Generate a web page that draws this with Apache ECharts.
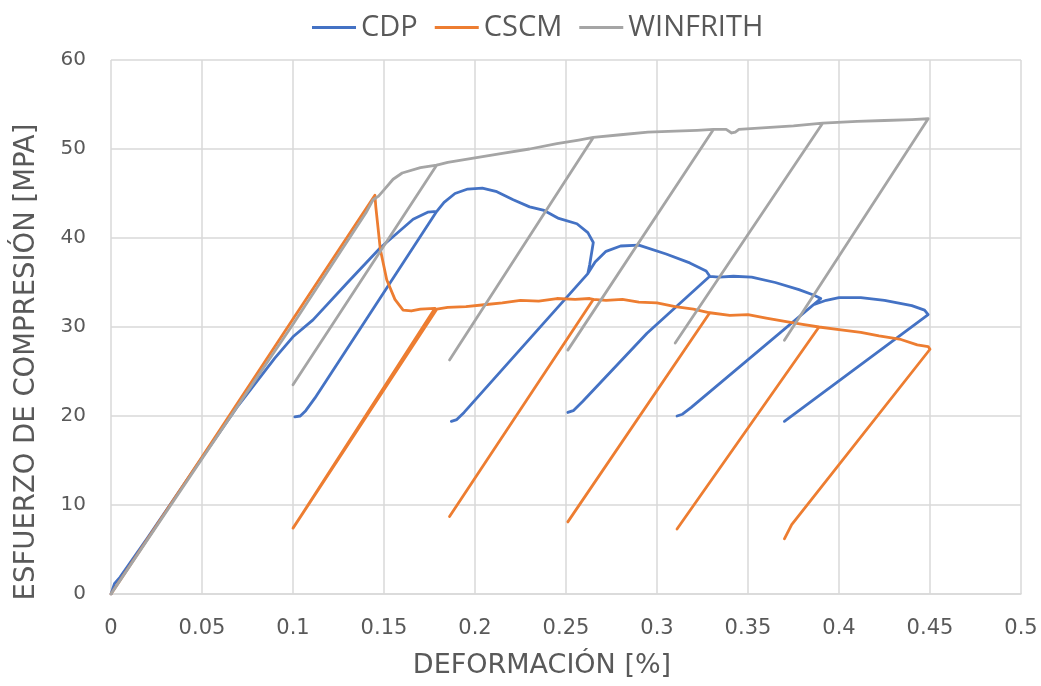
<!DOCTYPE html>
<html>
<head>
<meta charset="utf-8">
<script src="https://cdn.jsdelivr.net/npm/echarts@6/dist/echarts.min.js"></script>
<style>
  html, body { margin: 0; padding: 0; background: #ffffff; }
  #chart { width: 1041px; height: 686px; }
</style>
</head>
<body>
<div id="chart"></div>
<script>
// Cyclic compression tests: strain [%] vs. stress [MPa] for three concrete models.
const seriesNames = ['CDP', 'CSCM', 'WINFRITH'];
const seriesColors = ['#4472C4', '#ED7D31', '#A5A5A5'];

const xTicks = [0, 0.05, 0.1, 0.15, 0.2, 0.25, 0.3, 0.35, 0.4, 0.45, 0.5];
const yTicks = [0, 10, 20, 30, 40, 50, 60];

// CDP: envelope with five unload / reload loops (each reload retraces its unload path)
const cdpStrain = [
  0, 0.002, 0.005, 0.02, 0.05, 0.07, 0.09, 0.1, 0.111, 0.13, 0.148, 0.166, 0.174, 0.179,
  0.112, 0.107, 0.104, 0.101,
  0.104, 0.107, 0.112, 0.179, 0.183, 0.189, 0.196, 0.204, 0.212, 0.221, 0.23, 0.238, 0.246, 0.256, 0.262, 0.265, 0.263, 0.262,
  0.194, 0.19, 0.187,
  0.19, 0.194, 0.262, 0.266, 0.272, 0.28, 0.29, 0.305, 0.318, 0.327, 0.329,
  0.2945, 0.259, 0.254, 0.251,
  0.254, 0.259, 0.2945, 0.329, 0.334, 0.342, 0.352, 0.365, 0.378, 0.386, 0.39,
  0.319, 0.314, 0.311,
  0.314, 0.319, 0.386, 0.393, 0.4, 0.412, 0.425, 0.44, 0.447, 0.449,
  0.37
];
const cdpStress = [
  0, 1.2, 1.9, 6.3, 15.3, 21.2, 26.5, 28.9, 30.8, 35.0, 38.9, 42.1, 42.9, 43.0,
  22.0, 20.6, 20.0, 19.9,
  20.0, 20.6, 22.0, 43.0, 44.0, 45.0, 45.5, 45.6, 45.2, 44.3, 43.5, 43.1, 42.2, 41.6, 40.6, 39.5, 37.0, 36.0,
  20.4, 19.6, 19.4,
  19.6, 20.4, 36.0, 37.3, 38.5, 39.1, 39.2, 38.2, 37.2, 36.3, 35.7,
  29.3, 21.6, 20.6, 20.4,
  20.6, 21.6, 29.3, 35.7, 35.6, 35.7, 35.6, 35.0, 34.2, 33.6, 33.2,
  21.0, 20.2, 20.0,
  20.2, 21.0, 32.5, 33.0, 33.3, 33.3, 33.0, 32.4, 31.9, 31.4,
  19.4
];

// CSCM: brittle peak, then a softening plateau with unload / reload loops
const cscmStrain = [
  0, 0.05, 0.1, 0.144, 0.145, 0.1455, 0.148, 0.1515, 0.156, 0.1605, 0.165, 0.17, 0.178, 0.179,
  0.1,
  0.179, 0.185, 0.195, 0.205, 0.215, 0.225, 0.235, 0.245, 0.255, 0.263, 0.265,
  0.186,
  0.265, 0.272, 0.281, 0.29, 0.3, 0.31, 0.32, 0.329,
  0.251,
  0.329, 0.34, 0.35, 0.36, 0.371, 0.38, 0.389,
  0.311,
  0.389, 0.4, 0.412, 0.422, 0.434, 0.443, 0.449, 0.45,
  0.374, 0.37
];
const cscmStress = [
  0, 15.4, 30.9, 44.5, 44.8, 43.5, 38.7, 35.3, 33.1, 31.9, 31.8, 32.0, 32.1, 32.0,
  7.4,
  32.0, 32.2, 32.3, 32.5, 32.7, 33.0, 32.9, 33.2, 33.1, 33.2, 33.1,
  8.7,
  33.1, 33.0, 33.1, 32.8, 32.7, 32.3, 32.0, 31.6,
  8.1,
  31.6, 31.3, 31.4, 31.0, 30.6, 30.3, 30.0,
  7.3,
  30.0, 29.7, 29.4, 29.0, 28.6, 28.0, 27.8, 27.5,
  7.8, 6.2
];

// WINFRITH: hardening envelope with unload / reload loops
const winStrain = [
  0, 0.05, 0.1, 0.14, 0.144, 0.147, 0.15, 0.155, 0.16, 0.17, 0.179,
  0.1,
  0.179, 0.185, 0.2, 0.215, 0.23, 0.245, 0.257, 0.265,
  0.186,
  0.265, 0.28, 0.295, 0.31, 0.322, 0.331,
  0.251,
  0.331, 0.338, 0.341, 0.343, 0.345, 0.36, 0.375, 0.391,
  0.31,
  0.391, 0.41, 0.425, 0.44, 0.449,
  0.37
];
const winStress = [
  0, 15.2, 30.3, 42.8, 44.3, 44.7, 45.4, 46.6, 47.3, 47.9, 48.2,
  23.5,
  48.2, 48.5, 49.0, 49.5, 50.0, 50.6, 51.0, 51.3,
  26.3,
  51.3, 51.6, 51.9, 52.0, 52.1, 52.2,
  27.4,
  52.2, 52.2, 51.8, 51.9, 52.2, 52.4, 52.6, 52.9,
  28.2,
  52.9, 53.1, 53.2, 53.3, 53.4,
  28.5
];

const pairs = (xs, ys) => xs.map((x, i) => [x, ys[i]]);
const curves = [
  pairs(cdpStrain, cdpStress),
  pairs(cscmStrain, cscmStress),
  pairs(winStrain, winStress)
];

const textColor = '#595959';
const gridColor = '#D9D9D9';

const chart = echarts.init(document.getElementById('chart'), null, { renderer: 'canvas' });
chart.setOption({
  animation: false,
  backgroundColor: '#ffffff',
  color: seriesColors,
  legend: {
    top: 8,
    left: 307,
    icon: 'rect',
    itemWidth: 44,
    itemHeight: 3,
    itemGap: 17,
    textStyle: { fontFamily: 'Open Sans', fontSize: 29, color: textColor },
    data: seriesNames
  },
  grid: { left: 111, right: 20, top: 60, bottom: 92, containLabel: false },
  xAxis: {
    type: 'value',
    min: xTicks[0],
    max: xTicks[xTicks.length - 1],
    interval: 0.05,
    name: 'DEFORMACIÓN [%]',
    nameLocation: 'middle',
    nameGap: 58,
    nameTextStyle: { fontFamily: 'DejaVu Sans', fontSize: 27, color: textColor, padding: [0, 48, 0, 0] },
    axisLine: { show: true, lineStyle: { color: gridColor, width: 1.5 } },
    axisTick: { show: false },
    axisLabel: {
      fontFamily: 'DejaVu Sans', fontSize: 21, color: textColor, margin: 24,
      formatter: v => String(Number(v.toFixed(2)))
    },
    splitLine: { show: true, lineStyle: { color: gridColor, width: 1.5 } }
  },
  yAxis: {
    type: 'value',
    min: yTicks[0],
    max: yTicks[yTicks.length - 1],
    interval: 10,
    name: 'ESFUERZO DE COMPRESIÓN [MPA]',
    nameLocation: 'middle',
    nameGap: 70,
    nameTextStyle: { fontFamily: 'DejaVu Sans', fontSize: 27.5, color: textColor, padding: [0, 70, 0, 0] },
    axisLine: { show: false },
    axisTick: { show: false },
    axisLabel: { fontFamily: 'DejaVu Sans', fontSize: 20, color: textColor, margin: 25 },
    splitLine: { show: true, lineStyle: { color: gridColor, width: 1.5 } }
  },
  series: seriesNames.map((name, i) => ({
    name,
    type: 'line',
    data: curves[i],
    showSymbol: false,
    symbol: 'none',
    smooth: false,
    lineStyle: { width: 2.8, color: seriesColors[i], join: 'round', cap: 'round' },
    itemStyle: { color: seriesColors[i] }
  }))
});
</script>
</body>
</html>
